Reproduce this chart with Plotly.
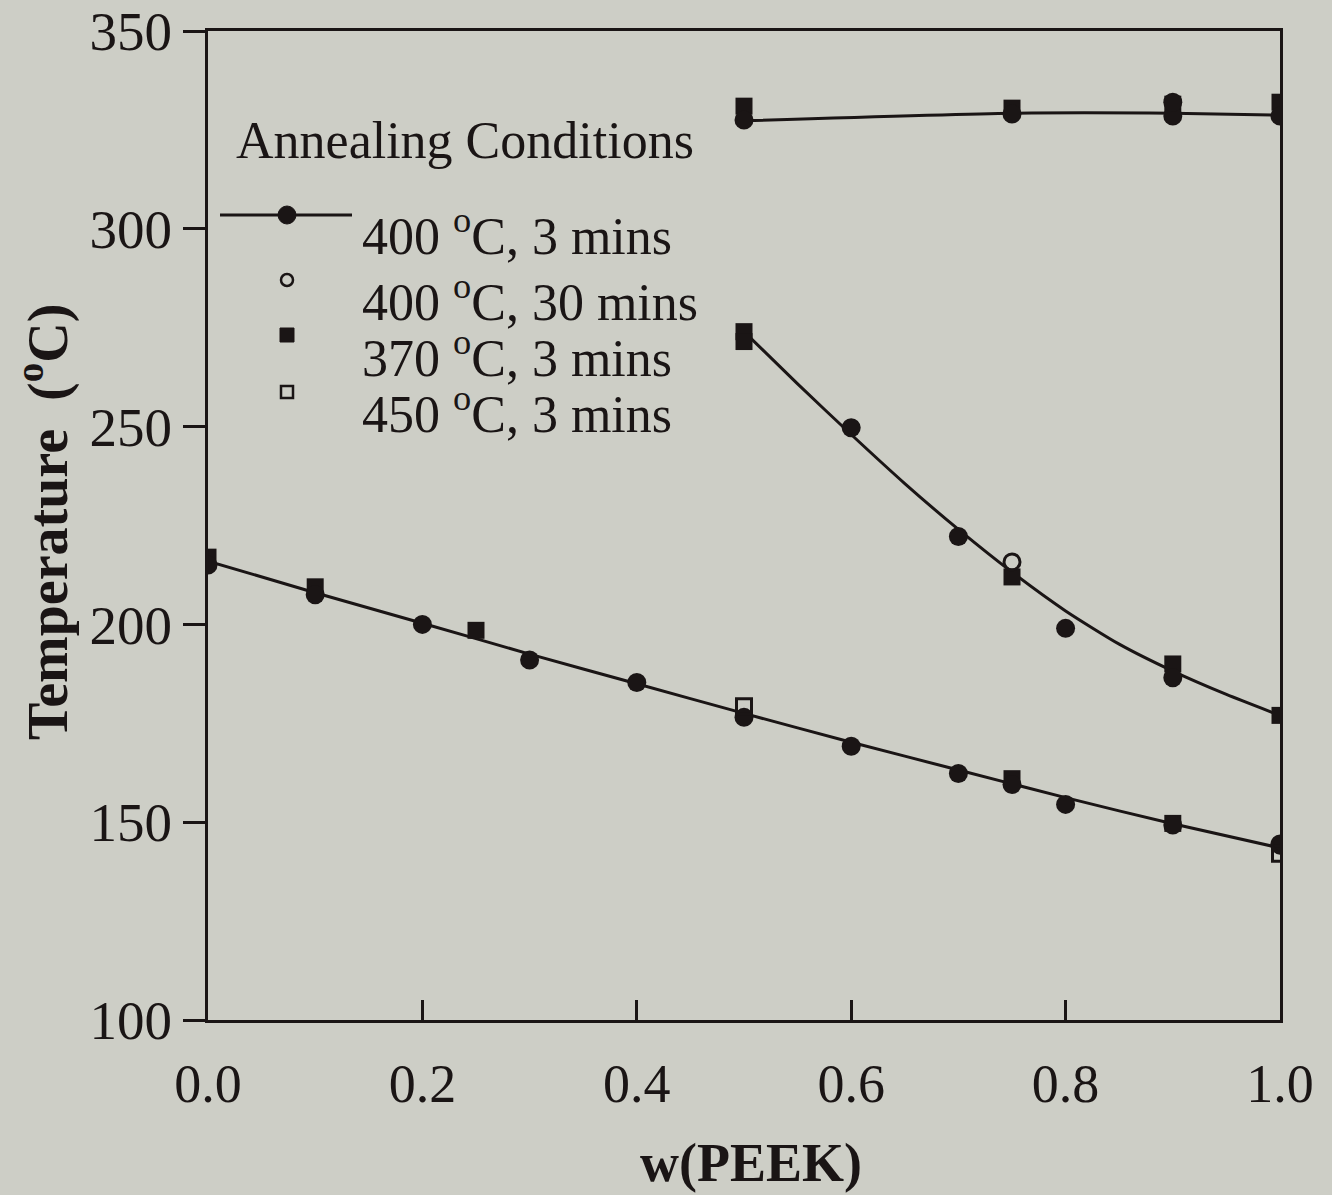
import plotly.graph_objects as go

# ---- data ----
# 400 °C, 3 mins (filled circles)
c400_3_x = [0.0, 0.1, 0.2, 0.3, 0.4, 0.5, 0.6, 0.7, 0.75, 0.8, 0.9, 1.0,
            0.6, 0.7, 0.8, 0.9,
            0.5, 0.75, 0.9, 0.9, 1.0]
c400_3_y = [215.0, 207.5, 200.0, 191.0, 185.3, 176.5, 169.2, 162.3, 159.5, 154.5, 149.3, 144.2,
            249.7, 222.2, 199.0, 186.5,
            327.5, 329.0, 328.5, 332.0, 328.5]
# 400 °C, 30 mins (open circles)
c400_30_x = [0.75, 1.0]
c400_30_y = [215.8, 144.5]
# 370 °C, 3 mins (filled squares)
s370_x = [0.0, 0.1, 0.25, 0.75, 0.9,
          0.5, 0.5, 0.75, 0.9, 1.0,
          0.5, 0.75, 0.9, 1.0]
s370_y = [217.0, 209.5, 198.5, 161.0, 149.7,
          274.0, 271.5, 212.0, 190.0, 177.0,
          331.0, 330.5, 331.5, 332.0]
# 450 °C, 3 mins (open squares)
s450_x = [0.5, 1.0]
s450_y = [179.3, 142.0]

# fitted curves
fit_low_x = [0.0, 0.1, 0.2, 0.3, 0.4, 0.5, 0.6, 0.7, 0.8, 0.9, 1.0]
fit_low_y = [216.0, 208.0, 200.3, 192.5, 185.0, 177.5, 170.2, 163.2, 156.2, 149.6, 143.5]
fit_mid_x = [0.5, 0.55, 0.6, 0.65, 0.7, 0.75, 0.8, 0.85, 0.9, 0.95, 1.0]
fit_mid_y = [274.0, 260.8, 248.0, 235.6, 224.0, 213.2, 203.4, 195.0, 188.2, 182.3, 177.0]
fit_up_x = [0.5, 0.75, 0.9, 1.0]
fit_up_y = [327.3, 329.2, 329.2, 328.7]

legend_labels = ["400 <sup>o</sup>C, 3 mins", "400 <sup>o</sup>C, 30 mins",
                 "370 <sup>o</sup>C, 3 mins", "450 <sup>o</sup>C, 3 mins"]
x_ticks = [0.0, 0.2, 0.4, 0.6, 0.8, 1.0]
y_ticks = [100, 150, 200, 250, 300, 350]

INK = "#1a1515"
BG = "#cdcec6"
FONT = "Liberation Serif"

fig = go.Figure()
for fx, fy in [(fit_low_x, fit_low_y), (fit_mid_x, fit_mid_y), (fit_up_x, fit_up_y)]:
    fig.add_trace(go.Scatter(x=fx, y=fy, mode="lines",
                             line=dict(color=INK, width=3, shape="spline", smoothing=0.6),
                             showlegend=False, hoverinfo="skip"))

fig.add_trace(go.Scatter(x=s370_x, y=s370_y, mode="markers",
                         marker=dict(symbol="square", size=17, color=INK), showlegend=False))
fig.add_trace(go.Scatter(x=c400_3_x, y=c400_3_y, mode="markers",
                         marker=dict(symbol="circle", size=19, color=INK), showlegend=False))
fig.add_trace(go.Scatter(x=s450_x, y=s450_y, mode="markers",
                         marker=dict(symbol="square-open", size=15, color=INK, line=dict(width=3)),
                         showlegend=False))
fig.add_trace(go.Scatter(x=c400_30_x, y=c400_30_y, mode="markers",
                         marker=dict(symbol="circle-open", size=16, color=INK, line=dict(width=3)),
                         showlegend=False))

# plot area in pixels
L, R, T, B = 208, 1280, 31, 1020
W, H = R - L, B - T


def px(xp):
    return (xp - L) / W


def py(yp):
    return (B - yp) / H


shapes = []
annotations = []
# legend title
annotations.append(dict(x=px(234), y=py(140), xref="paper", yref="paper", xanchor="left",
                        yanchor="middle", text="Annealing Conditions", showarrow=False,
                        font=dict(family=FONT, size=52, color=INK)))
legend_text_y = [232, 298, 354, 410]
legend_key_y = [215, 280, 335, 392]
for lab, ty in zip(legend_labels, legend_text_y):
    annotations.append(dict(x=px(360), y=py(ty), xref="paper", yref="paper", xanchor="left",
                            yanchor="middle", text=lab, showarrow=False,
                            font=dict(family=FONT, size=52, color=INK)))
# legend keys
kx = px(287)
shapes.append(dict(type="line", xref="paper", yref="paper", x0=px(220), x1=px(352),
                   y0=py(legend_key_y[0]), y1=py(legend_key_y[0]),
                   line=dict(color=INK, width=3)))
shapes.append(dict(type="circle", xref="paper", yref="paper", xsizemode="pixel", ysizemode="pixel",
                   xanchor=kx, yanchor=py(legend_key_y[0]), x0=-9, x1=9, y0=-9, y1=9,
                   fillcolor=INK, line=dict(color=INK, width=1)))
shapes.append(dict(type="circle", xref="paper", yref="paper", xsizemode="pixel", ysizemode="pixel",
                   xanchor=kx, yanchor=py(legend_key_y[1]), x0=-6, x1=6, y0=-6, y1=6,
                   fillcolor="rgba(0,0,0,0)", line=dict(color=INK, width=2.5)))
shapes.append(dict(type="rect", xref="paper", yref="paper", xsizemode="pixel", ysizemode="pixel",
                   xanchor=kx, yanchor=py(legend_key_y[2]), x0=-7, x1=7, y0=-7, y1=7,
                   fillcolor=INK, line=dict(color=INK, width=1)))
shapes.append(dict(type="rect", xref="paper", yref="paper", xsizemode="pixel", ysizemode="pixel",
                   xanchor=kx, yanchor=py(legend_key_y[3]), x0=-6, x1=6, y0=-6, y1=6,
                   fillcolor="rgba(0,0,0,0)", line=dict(color=INK, width=2.5)))

# axis titles
annotations.append(dict(x=px(751), y=py(1163), xref="paper", yref="paper", xanchor="center",
                        yanchor="middle", text="<b>w(PEEK)</b>", showarrow=False,
                        font=dict(family=FONT, size=54, color=INK)))
annotations.append(dict(x=px(44), y=py(522), xref="paper", yref="paper", xanchor="center",
                        yanchor="middle", text="<b>Temperature  (<sup>o</sup>C)</b>", showarrow=False,
                        textangle=-90, font=dict(family=FONT, size=56, color=INK)))

fig.update_layout(
    width=1332, height=1195,
    margin=dict(l=L, r=1332 - R, t=T, b=1195 - B, autoexpand=False),
    paper_bgcolor=BG, plot_bgcolor=BG,
    showlegend=False,
    shapes=shapes, annotations=annotations,
    font=dict(family=FONT, color=INK),
)
fig.update_xaxes(range=[0, 1], tickvals=x_ticks, ticktext=[f"{v:.1f}" for v in x_ticks],
                 ticks="inside", ticklen=20, tickwidth=2.5, tickcolor=INK,
                 showline=True, linecolor=INK, linewidth=3, mirror=True,
                 showgrid=False, zeroline=False, ticklabelstandoff=14,
                 ticklabeloverflow="allow", automargin=False,
                 tickfont=dict(family=FONT, size=54, color=INK))
fig.update_yaxes(range=[100, 350], tickvals=y_ticks, ticks="outside", ticklen=22,
                 tickwidth=2.5, tickcolor=INK,
                 showline=True, linecolor=INK, linewidth=3, mirror=True,
                 showgrid=False, zeroline=False, ticklabelstandoff=0,
                 ticklabeloverflow="allow", automargin=False,
                 tickfont=dict(family=FONT, size=55, color=INK))

fig.write_html("out.html")
